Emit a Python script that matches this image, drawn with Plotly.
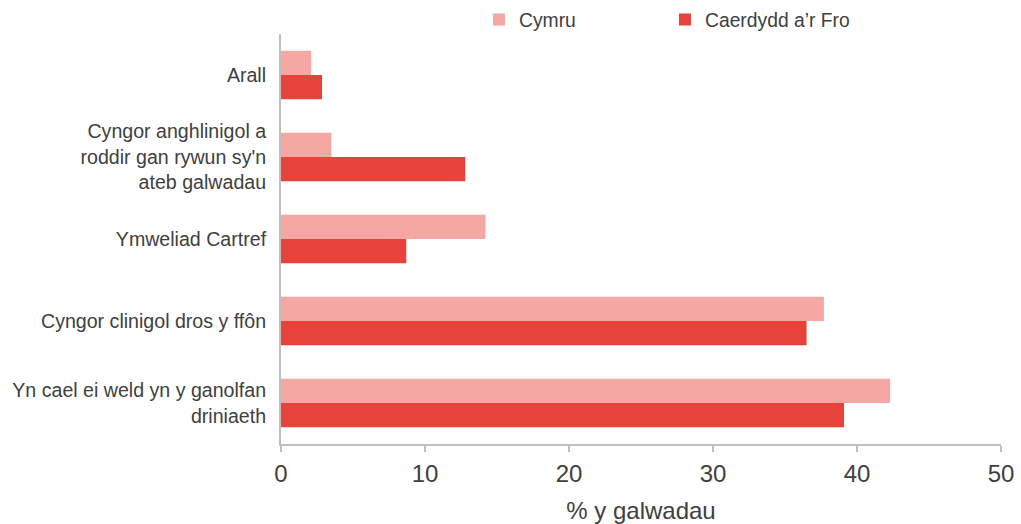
import plotly.graph_objects as go

categories = [
    "Arall",
    "Cyngor anghlinigol a<br>roddir gan rywun sy'n<br>ateb galwadau",
    "Ymweliad Cartref",
    "Cyngor clinigol dros y ffôn",
    "Yn cael ei weld yn y ganolfan<br>driniaeth",
]
cymru = [2.1, 3.5, 14.2, 37.7, 42.3]
caerdydd = [2.85, 12.8, 8.7, 36.5, 39.1]
series_names = ["Cymru", "Caerdydd a’r Fro"]
x_ticks = [0, 10, 20, 30, 40, 50]

FONT = "Arial, 'Liberation Sans', sans-serif"
TXT = "#404040"

fig = go.Figure()
fig.add_trace(go.Bar(
    y=categories, x=cymru, orientation="h", name=series_names[0],
    marker=dict(color="#F5A7A3", line=dict(width=0)),
))
fig.add_trace(go.Bar(
    y=categories, x=caerdydd, orientation="h", name=series_names[1],
    marker=dict(color="#E8433A", line=dict(width=0)),
))

fig.update_layout(
    width=1021, height=524,
    margin=dict(l=281, r=20, t=34, b=80, autoexpand=False),
    paper_bgcolor="white", plot_bgcolor="white",
    barmode="group", bargap=0.41, bargroupgap=0,
    font=dict(family=FONT, color=TXT, size=19),
    showlegend=True,
    legend=dict(
        orientation="h", x=0.275, xanchor="left", y=1.034, yanchor="middle",
        font=dict(size=19.3, color=TXT), traceorder="normal",
        entrywidth=141, entrywidthmode="pixels",
        bgcolor="rgba(0,0,0,0)",
    ),
    xaxis=dict(
        range=[0, 50], tickvals=x_ticks, ticktext=[str(v) for v in x_ticks],
        showgrid=False, zeroline=False,
        showline=True, linecolor="#BFBFBF", linewidth=2,
        ticks="outside", ticklen=6, tickwidth=2, tickcolor="#BFBFBF",
        tickfont=dict(size=24, color=TXT), ticklabelstandoff=1,
        title=dict(text="% y galwadau", font=dict(size=24, color=TXT), standoff=16),
    ),
    yaxis=dict(
        categoryorder="array", categoryarray=categories,
        autorange=False, range=[4.5, -0.5],
        showgrid=False, zeroline=False,
        showline=True, linecolor="#BFBFBF", linewidth=2,
        ticks="", tickfont=dict(size=19.6, color=TXT), ticklabelstandoff=9,
    ),
)

fig.write_html("out.html")
